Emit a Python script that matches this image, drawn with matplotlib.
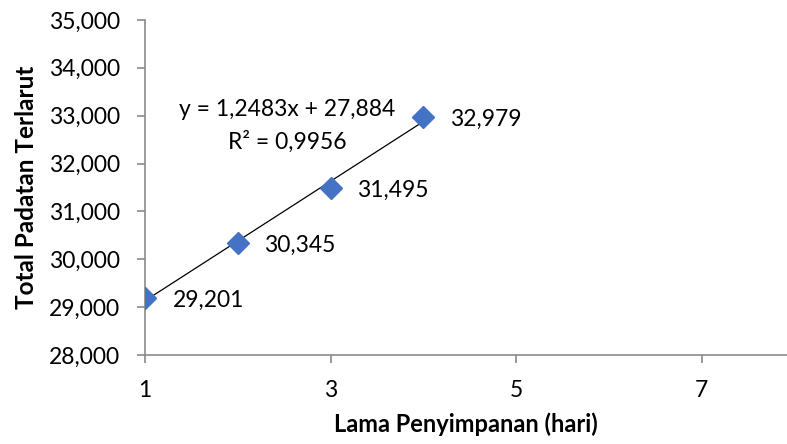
import numpy as np
import matplotlib
matplotlib.use("Agg")
import matplotlib.pyplot as plt

# ── data ─────────────────────────────────────────────────────────────────────
hari = [1, 2, 3, 4]
tpt = [29.201, 30.345, 31.495, 32.979]
point_labels = ["29,201", "30,345", "31,495", "32,979"]
y_ticks = [28, 29, 30, 31, 32, 33, 34, 35]
x_ticks = [1, 3, 5, 7]
eq_text = "y = 1,2483x + 27,884"
r2_text = "R\u00b2 = 0,9956"

plt.rcParams["font.family"] = ["Lato", "DejaVu Sans"]
axis_gray = "#8a8a8a"
blue = "#4472C4"
fs = 16.5

fig = plt.figure(figsize=(7.87, 4.44), dpi=100)
ax = fig.add_axes([0.1842, 0.2005, 0.8158, 0.7545])

# trendline from linear fit
k, b = np.polyfit(hari, tpt, 1)
xs = np.array([min(hari), max(hari)])
ax.plot(xs, k * xs + b, color="black", linewidth=0.9, zorder=2)

ax.plot(hari, tpt, linestyle="none", marker="D", markersize=11,
        color=blue, markeredgecolor=blue, zorder=3)

for x, y, lab in zip(hari, tpt, point_labels):
    off = 20 if x == 1 else 19
    ax.annotate(lab, (x, y), xytext=(off, -2), textcoords="offset points",
                ha="left", va="center", fontsize=fs)

# trendline equation label
ax.text(2.53, 33.13, eq_text, ha="center", va="center", fontsize=fs)
ax.text(2.53, 32.45, r2_text, ha="center", va="center", fontsize=fs)

ax.set_xlim(1, 7.92)
ax.set_ylim(28, 35)
ax.set_xticks(x_ticks)
ax.set_xticklabels([str(t) for t in x_ticks])
ax.set_yticks(y_ticks)
ax.set_yticklabels([f"{t:.3f}".replace(".", ",") for t in y_ticks])

for s in ["top", "right"]:
    ax.spines[s].set_visible(False)
for s in ["left", "bottom"]:
    ax.spines[s].set_color(axis_gray)
    ax.spines[s].set_linewidth(1.2)
ax.tick_params(axis="both", colors=axis_gray, length=6, width=1.2,
               labelsize=fs, labelcolor="black")
ax.tick_params(axis="x", pad=12)
ax.tick_params(axis="y", pad=12)

ax.set_xlabel("Lama Penyimpanan (hari)", fontsize=17, fontweight="bold", labelpad=8)
ax.set_ylabel("Total Padatan Terlarut", fontsize=17.5, fontweight="bold", labelpad=8)

plt.savefig("out.png", dpi=100)
